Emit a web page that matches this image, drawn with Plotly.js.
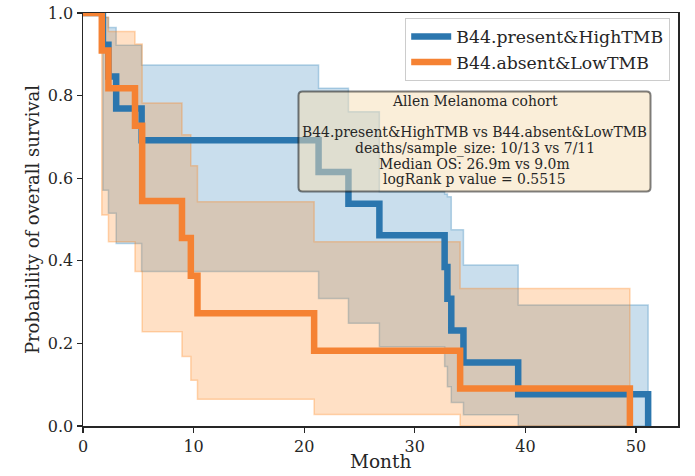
<!DOCTYPE html>
<html>
<head>
<meta charset="utf-8">
<script src="https://cdn.plot.ly/plotly-3.0.1.min.js"></script>
<style>html,body{margin:0;padding:0;background:#fff;}#chart{width:695px;height:476px;}</style>
</head>
<body>
<div id="chart"></div>
<script>
// ---- data ----
const groupNames = ["B44.present&HighTMB", "B44.absent&LowTMB"];

// B44.present&HighTMB (blue)
const presentTime  = [0, 1.8, 2.3, 3.0, 5.3, 21.3, 24.0, 26.8, 32.7, 32.95, 33.3, 34.4, 39.35, 51.1];
const presentSurv  = [1.0, 0.923, 0.846, 0.769, 0.692, 0.615, 0.538, 0.462, 0.385, 0.308, 0.231, 0.154, 0.077, 0.0];
const presentUpper = [1.0, 0.989, 0.965, 0.922, 0.874, 0.818, 0.761, 0.567, 0.562, 0.555, 0.475, 0.39, 0.293, 0.0];
const presentLower = [1.0, 0.571, 0.515, 0.442, 0.374, 0.309, 0.249, 0.192, 0.144, 0.095, 0.057, 0.027, 0.0, 0.0];

// B44.absent&LowTMB (orange)
const absentTime  = [0, 1.7, 2.3, 4.7, 5.35, 8.95, 9.75, 10.35, 20.9, 34.1, 49.45];
const absentSurv  = [1.0, 0.909, 0.818, 0.727, 0.545, 0.455, 0.364, 0.273, 0.182, 0.091, 0.0];
const absentUpper = [1.0, 0.99, 0.955, 0.925, 0.782, 0.705, 0.63, 0.543, 0.446, 0.333, 0.0];
const absentLower = [1.0, 0.511, 0.446, 0.374, 0.228, 0.168, 0.111, 0.065, 0.028, 0.0, 0.0];

const xTicks = [0, 10, 20, 30, 40, 50];
const yTicks = [0, 0.2, 0.4, 0.6, 0.8, 1.0];
const xTitle = "Month";
const yTitle = "Probability of overall survival";

const boxLines = [
  "Allen Melanoma cohort",
  "",
  "B44.present&HighTMB vs B44.absent&LowTMB",
  "deaths/sample_size: 10/13 vs 7/11",
  "Median OS: 26.9m vs 9.0m",
  "logRank p value = 0.5515"
];

// ---- styling ----
const FONT = "DejaVu Serif";
const TXT = "#262626";
const blueLine = "#2b76ae", orangeLine = "#f58233";

function band(t, lo, hi, rgb) {
  return [
    {x: t, y: lo, type: "scatter", mode: "lines", line: {shape: "hv", color: "rgba(" + rgb + ",0.3)", width: 1.5},
     showlegend: false, hoverinfo: "skip"},
    {x: t, y: hi, type: "scatter", mode: "lines", line: {shape: "hv", color: "rgba(" + rgb + ",0.3)", width: 1.5},
     fill: "tonexty", fillcolor: "rgba(" + rgb + ",0.24)", showlegend: false, hoverinfo: "skip"}
  ];
}

const traces = [
  ...band(presentTime, presentLower, presentUpper, "31,119,180"),
  ...band(absentTime, absentLower, absentUpper, "255,127,14"),
  {x: presentTime, y: presentSurv, type: "scatter", mode: "lines", name: groupNames[0], legendgroup: "g1",
   line: {shape: "hv", color: blueLine, width: 6.5}},
  {x: absentTime, y: absentSurv, type: "scatter", mode: "lines", name: groupNames[1], legendgroup: "g2",
   line: {shape: "hv", color: orangeLine, width: 6.5}}
];

// plot area geometry (px) for the text box
const L = 83, R = 17, T = 13, B = 50, W = 695, H = 476;
const pw = W - L - R, ph = H - T - B;
function px2x(p) { return (p - L) / pw; }
function py2y(p) { return (H - B - p) / ph; }

function roundRect(x0, y0, x1, y1, r) {
  const rx = r / pw, ry = r / ph;
  return `M${x0 + rx},${y1} L${x1 - rx},${y1} Q${x1},${y1} ${x1},${y1 - ry} L${x1},${y0 + ry} Q${x1},${y0} ${x1 - rx},${y0} ` +
         `L${x0 + rx},${y0} Q${x0},${y0} ${x0},${y0 + ry} L${x0},${y1 - ry} Q${x0},${y1} ${x0 + rx},${y1} Z`;
}

const bx0 = px2x(298.5), bx1 = px2x(650.5), by0 = py2y(191.5), by1 = py2y(91.5);
const lineY = [101, 117, 132, 148, 163.5, 179];
const annotations = boxLines.map((s, i) => ({
  xref: "paper", yref: "paper", x: px2x(474.5), y: py2y(lineY[i]), xanchor: "center", yanchor: "middle",
  text: s, showarrow: false, font: {family: FONT, size: 13.9, color: TXT}
})).filter(a => a.text !== "");
annotations.push({xref: "paper", yref: "paper", x: 0.5, y: py2y(461), xanchor: "center", yanchor: "middle",
  text: xTitle, showarrow: false, font: {family: FONT, size: 18.5, color: TXT}});

const layout = {
  width: W, height: H,
  margin: {l: L, r: R, t: T, b: B},
  paper_bgcolor: "#fff", plot_bgcolor: "#fff",
  font: {family: FONT, color: TXT},
  showlegend: true,
  legend: {x: px2x(670), y: py2y(17.5), xanchor: "right", yanchor: "top", traceorder: "grouped",
           bgcolor: "rgba(255,255,255,0.8)", bordercolor: "#cccccc", borderwidth: 1.2,
           font: {family: FONT, size: 17.3, color: TXT}, itemwidth: 40, tracegroupgap: 0},
  xaxis: {range: [0, 53.8], tickvals: xTicks, ticktext: xTicks.map(String), ticks: "outside", ticklen: 5, tickwidth: 1.25,
          tickcolor: TXT, showline: true, mirror: true, linecolor: TXT, linewidth: 1.5, showgrid: false, zeroline: false,
          tickfont: {family: FONT, size: 16, color: TXT}},
  yaxis: {range: [0, 1], tickvals: yTicks, ticktext: yTicks.map(v => v.toFixed(1)), ticks: "outside", ticklen: 5, tickwidth: 1.25,
          tickcolor: TXT, showline: true, mirror: true, linecolor: TXT, linewidth: 1.5, showgrid: false, zeroline: false,
          tickfont: {family: FONT, size: 16, color: TXT},
          title: {text: yTitle, font: {family: FONT, size: 18, color: TXT}, standoff: 3}},
  shapes: [{type: "path", xref: "paper", yref: "paper", layer: "above", path: roundRect(bx0, by0, bx1, by1, 4),
            fillcolor: "rgba(245,222,179,0.5)", line: {color: "rgba(0,0,0,0.5)", width: 2}}],
  annotations: annotations
};

Plotly.newPlot("chart", traces, layout, {displayModeBar: false, staticPlot: true});
</script>
</body>
</html>
